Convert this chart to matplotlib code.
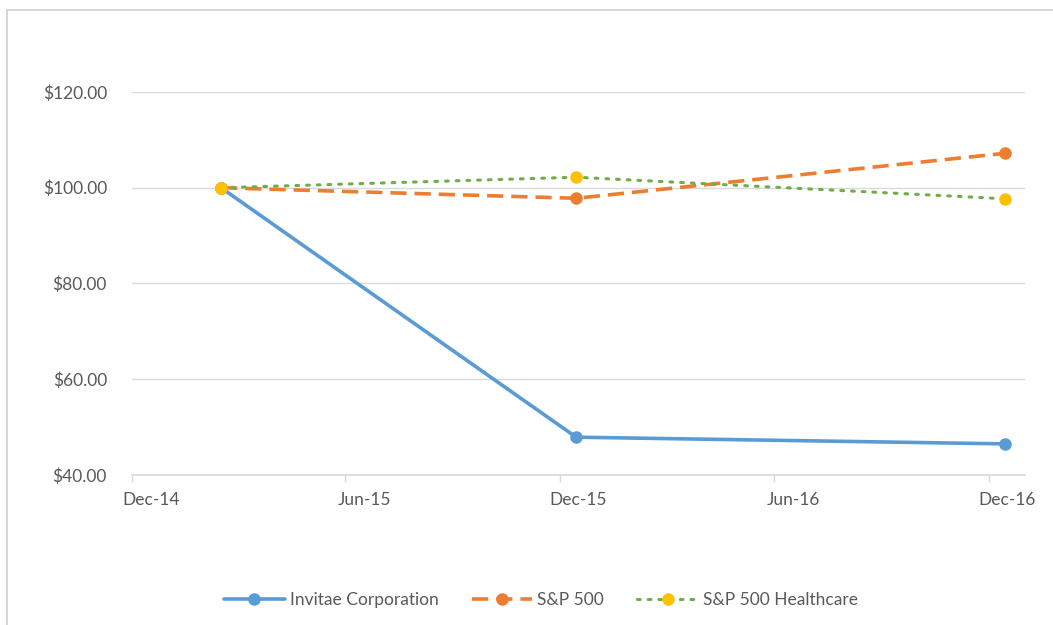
import numpy as np
import pandas as pd
import matplotlib
matplotlib.use("Agg")
import matplotlib.pyplot as plt
from matplotlib.patches import Rectangle

plt.rcParams['font.family'] = ['Lato', 'DejaVu Sans']

# data
dates = pd.to_datetime(['2015-02-15', '2015-12-15', '2016-12-15'])
invitae = [100.0, 47.9, 46.5]
sp500 = [100.0, 97.8, 107.2]
healthcare = [100.0, 102.2, 97.7]
tick_dates = pd.to_datetime(['2014-12-01', '2015-06-01', '2015-12-01', '2016-06-01', '2016-12-01'])
tick_labels = ['Dec-14', 'Jun-15', 'Dec-15', 'Jun-16', 'Dec-16']
y_ticks = [40, 60, 80, 100, 120]

grey = '#595959'
grid = '#D9D9D9'
fs = 12.5

fig = plt.figure(figsize=(10.53, 6.25), dpi=100)
ax = fig.add_axes([132 / 1053, 1 - 475 / 625, (1025 - 132) / 1053, (475 - 92) / 625])

# outer chart border (cut off at right/bottom like the screenshot)
fig.patches.append(Rectangle((7 / 1053, -0.05), 1.1, 1 - 10 / 625 + 0.05,
                             transform=fig.transFigure, fill=False,
                             edgecolor='#D0D0D0', linewidth=1.2))

ax.plot(dates, invitae, color='#5B9BD5', linewidth=2.6, marker='o', markersize=8,
        label='Invitae Corporation', solid_capstyle='round')
ax.plot(dates, sp500, color='#ED7D31', linewidth=2.6, marker='o', markersize=8,
        dashes=(4.5, 2.2), label='S&P 500')
ax.plot(dates, healthcare, color='#70AD47', linewidth=2.2, marker='o', markersize=8,
        markerfacecolor='#FFC000', markeredgecolor='#FFC000',
        dashes=(0.9, 2.6), dash_capstyle='round', label='S&P 500 Healthcare')

ax.set_xlim(pd.Timestamp('2014-12-01'), pd.Timestamp('2017-01-01'))
ax.set_ylim(40, 120)

# tick marks at month starts, labels offset to mid-month
ax.set_xticks(tick_dates)
ax.set_xticklabels([])
ax.set_xticks(tick_dates + pd.Timedelta(days=16), minor=True)
ax.set_xticklabels(tick_labels, minor=True)
ax.tick_params(axis='x', which='major', length=5, color=grid, width=1)
ax.tick_params(axis='x', which='minor', length=0, pad=12, labelsize=fs, labelcolor=grey)

ax.set_yticks(y_ticks)
ax.set_yticklabels(['${:.2f}'.format(v) for v in y_ticks])
ax.tick_params(axis='y', length=0, pad=18, labelsize=fs, labelcolor=grey)
ax.yaxis.grid(True, color=grid, linewidth=1)
ax.set_axisbelow(True)

for s in ['top', 'right', 'left']:
    ax.spines[s].set_visible(False)
ax.spines['bottom'].set_color(grid)
ax.spines['bottom'].set_linewidth(1.2)

leg = fig.legend(loc='center', bbox_to_anchor=(541 / 1053, 1 - 600 / 625), ncol=3,
                 frameon=False, handlelength=3.5, columnspacing=1.9, handletextpad=0.3,
                 numpoints=1, fontsize=fs)
for t in leg.get_texts():
    t.set_color(grey)

fig.savefig('out.png', dpi=100)
